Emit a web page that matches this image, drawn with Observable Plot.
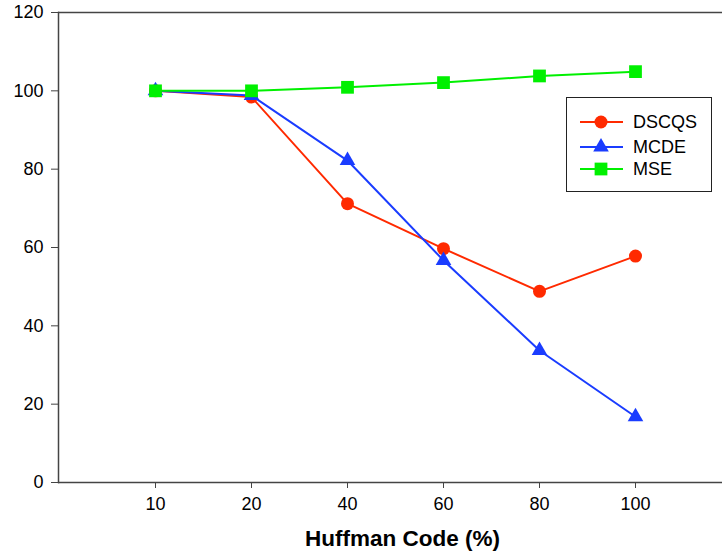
<!DOCTYPE html>
<html>
<head>
<meta charset="utf-8">
<script src="https://cdn.jsdelivr.net/npm/d3@7"></script>
<script src="https://cdn.jsdelivr.net/npm/@observablehq/plot@0.6"></script>
<style>
  html, body { margin: 0; padding: 0; background: #fff; }
  #wrap { position: relative; width: 722px; height: 558px; font-family: "Liberation Sans", Arial, sans-serif; }
  #legend { position: absolute; left: 566px; top: 97px; width: 146px; height: 95px; border: 1.5px solid #222; background: #fff; box-sizing: border-box; }
</style>
</head>
<body>
<div id="wrap"></div>
<script>
const categories = ["10", "20", "40", "60", "80", "100"];
const seriesNames = ["DSCQS", "MCDE", "MSE"];
const dscqs = [100, 98.4, 71.2, 59.7, 48.8, 57.8];
const mcde = [100, 98.8, 82.2, 56.7, 33.7, 16.8];
const mse = [100, 100, 100.9, 102.1, 103.8, 104.9];
const yTicks = [0, 20, 40, 60, 80, 100, 120];
const xTitle = "Huffman Code (%)";

const colors = ["#ff2a00", "#1a3cff", "#00f000"];
const symbols = ["circle", "triangle", "square"];
const sizes = [6.5, 5.8, 7.2];

const valuesList = [dscqs, mcde, mse];
const data = [];
seriesNames.forEach((s, i) => categories.forEach((c, j) => data.push({series: s, cat: c, value: valuesList[i][j]})));

const font = "Liberation Sans, Arial, sans-serif";

const marks = [
  Plot.ruleY([0], {stroke: "#444", strokeWidth: 1.5}),
  Plot.ruleY([120], {stroke: "#444", strokeWidth: 1.5}),
  Plot.frame({anchor: "left", stroke: "#444", strokeWidth: 1.5}),
  Plot.axisY({ticks: yTicks, tickSize: 7, tickPadding: 8, fontSize: 18, label: null, stroke: "#444"}),
  Plot.axisX({tickSize: 6, tickPadding: 9, fontSize: 18, label: null, stroke: "#444"}),
  Plot.text([xTitle], {frameAnchor: "bottom", dy: 63, dx: 12, fontSize: 22.5, fontWeight: "bold", fill: "#000"})
];
seriesNames.forEach((s, i) => {
  const d = data.filter(e => e.series === s);
  marks.push(Plot.line(d, {x: "cat", y: "value", stroke: colors[i], strokeWidth: 2}));
});
seriesNames.forEach((s, i) => {
  const d = data.filter(e => e.series === s);
  marks.push(Plot.dot(d, {x: "cat", y: "value", fill: colors[i], stroke: "none", symbol: symbols[i], r: sizes[i]}));
});

const chart = Plot.plot({
  width: 722,
  height: 558,
  marginLeft: 58,
  marginRight: 0,
  marginTop: 12,
  marginBottom: 76,
  style: {fontFamily: font, fontSize: "18px", color: "#000", background: "#fff"},
  x: {type: "point", domain: categories, range: [155, 635], padding: 0},
  y: {domain: [0, 120]},
  marks
});
document.getElementById("wrap").appendChild(chart);

// legend
const legend = d3.select("#wrap").append("div").attr("id", "legend");
const lsvg = legend.append("svg").attr("width", 143).attr("height", 92);
seriesNames.forEach((s, i) => {
  const y = [24, 49, 71][i];
  const g = lsvg.append("g").attr("transform", `translate(0,${y})`);
  g.append("line").attr("x1", 13).attr("x2", 56).attr("y1", 0).attr("y2", 0).attr("stroke", colors[i]).attr("stroke-width", 2);
  const sym = d3.symbol().type([d3.symbolCircle, d3.symbolTriangle, d3.symbolSquare][i]).size(Math.PI * sizes[i] * sizes[i]);
  g.append("path").attr("d", sym()).attr("transform", "translate(34,0)").attr("fill", colors[i]);
  g.append("text").attr("x", 66).attr("y", 0).attr("dy", "0.35em").attr("font-size", 18).attr("font-family", font).text(s);
});
</script>
</body>
</html>
